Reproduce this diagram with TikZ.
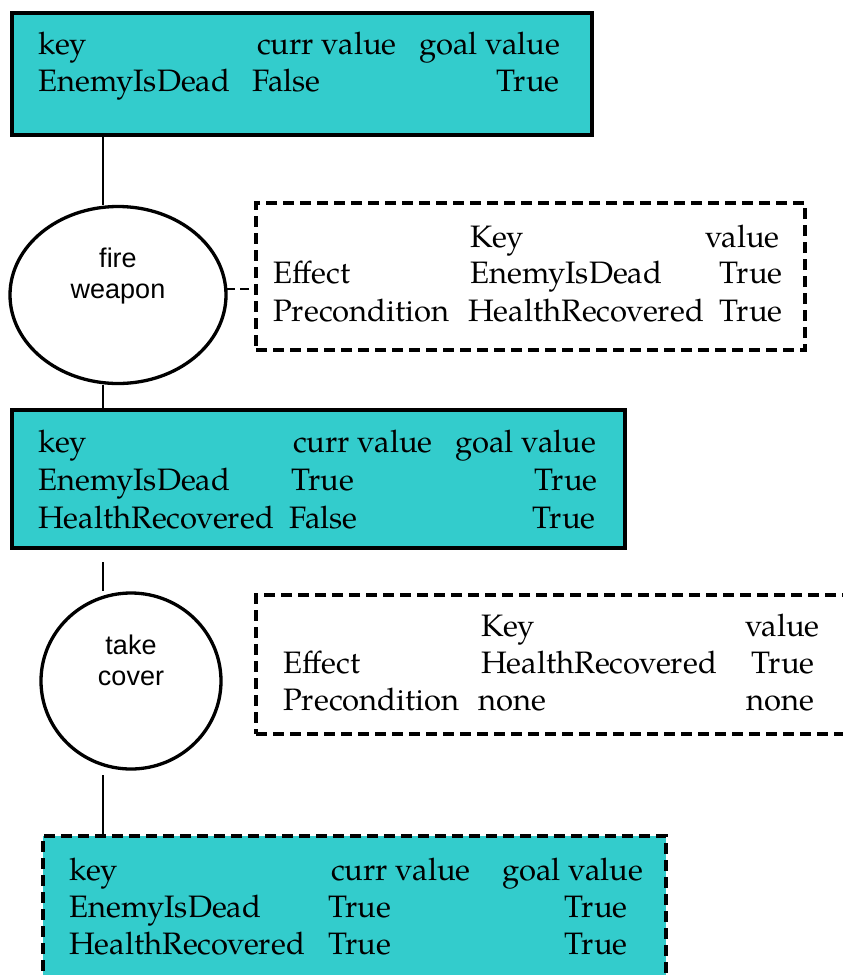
\documentclass[tikz,border=0pt]{standalone}
\usepackage{fontspec}
\setmainfont{TeX Gyre Pagella}
\newfontfamily\arialf{Liberation Sans}
\usetikzlibrary{shapes.geometric}
\definecolor{boxcyan}{RGB}{51,204,204}
\tikzset{
  tx/.style={font=\fontsize{31}{37}\selectfont, inner sep=0pt},
  L/.style={tx, anchor=base west},
  R/.style={tx, anchor=base east},
  statebox/.style={draw, line width=3.8pt, fill=boxcyan, rectangle, inner sep=0pt},
  actbox/.style={draw, line width=3.2pt, dash pattern=on 11pt off 6pt, rectangle, inner sep=0pt},
  action/.style={draw, line width=3.3pt, ellipse, inner sep=0pt},
  acttext/.style={align=center, inner sep=0pt, font=\arialf\fontsize{27}{31}\selectfont},
  link/.style={line width=2pt},
  dlink/.style={line width=2.4pt, dash pattern=on 9pt off 5pt},
}
\begin{document}
\begin{tikzpicture}[x=1pt, y=-1pt]
\useasboundingbox (0,0) rectangle (843,975);

% ---- state box 1
\node[statebox, minimum width=580pt, minimum height=122pt] (b1) at (302,74) {};
\node[L] (b1k)  at (38,54)  {key};
\node[L] (b1c)  at (257,54) {curr value};
\node[L] (b1g)  at (419,54) {goal value};
\node[L] (b1r1) at (38,91)  {EnemyIsDead};
\node[L] (b1r2) at (252,91) {False};
\node[R] (b1r3) at (560,91) {True};

% ---- action 1
\node[action, minimum width=216pt, minimum height=177pt] (e1) at (118,295) {};
\node[acttext] (e1t) at (118,276) {fire\\weapon};
\coordinate (x1) at (103,0);

% ---- action box 1
\node[actbox, minimum width=549pt, minimum height=147pt] (a1) at (530.5,276.5) {};
\node[L] (a1k)  at (470,247) {Key};
\node[R] (a1v)  at (780,247) {value};
\node[L] (a1e)  at (273,283) {Effect};
\node[L] (a1ek) at (470,283) {EnemyIsDead};
\node[R] (a1ev) at (783,283) {True};
\node[L] (a1p)  at (273,321) {Precondition};
\node[L] (a1pk) at (468,321) {HealthRecovered};
\node[R] (a1pv) at (783,321) {True};

% ---- state box 2
\node[statebox, minimum width=613pt, minimum height=138pt] (b2) at (318.5,479) {};
\node[L] (b2k)  at (38,452)  {key};
\node[L] (b2c)  at (293,452) {curr value};
\node[L] (b2g)  at (455,452) {goal value};
\node[L] (b2a1) at (38,490)  {EnemyIsDead};
\node[L] (b2a2) at (291,490) {True};
\node[R] (b2a3) at (598,490) {True};
\node[L] (b2b1) at (38,528)  {HealthRecovered};
\node[L] (b2b2) at (289,528) {False};
\node[R] (b2b3) at (596,528) {True};

% ---- action 2
\node[action, minimum width=180pt, minimum height=176pt] (e2) at (131,681) {};
\node[acttext] (e2t) at (131,660) {take\\cover};

% ---- action box 2 (runs past the right edge)
\node[actbox, minimum width=620pt, minimum height=139pt] (a2) at (566,664.5) {};
\node[L] (a2k)  at (481,636) {Key};
\node[R] (a2v)  at (820,636) {value};
\node[L] (a2e)  at (283,673) {Effect};
\node[L] (a2ek) at (481,673) {HealthRecovered};
\node[R] (a2ev) at (815,673) {True};
\node[L] (a2p)  at (283,710) {Precondition};
\node[L] (a2pk) at (478,710) {none};
\node[R] (a2pv) at (815,710) {none};

% ---- state box 3 (runs past the bottom edge)
\node[statebox, dash pattern=on 11pt off 6pt, line width=3.2pt, minimum width=623pt, minimum height=160pt] (b3) at (354.5,916) {};
\node[L] (b3k)  at (69,880)  {key};
\node[L] (b3c)  at (331,880) {curr value};
\node[L] (b3g)  at (502,880) {goal value};
\node[L] (b3a1) at (69,917)  {EnemyIsDead};
\node[L] (b3a2) at (328,917) {True};
\node[R] (b3a3) at (628,917) {True};
\node[L] (b3b1) at (69,954)  {HealthRecovered};
\node[L] (b3b2) at (328,954) {True};
\node[R] (b3b3) at (628,954) {True};

% ---- connectors
\coordinate (s3) at (103,562);
\coordinate (s4) at (103,775);
\coordinate (d1) at (226,289);
\draw[link] (b1.south -| x1) -- (e1.north -| x1);
\draw[link] (e1.south -| x1) -- (b2.north -| x1);
\draw[link] (s3) -- (e2.north -| x1);
\draw[link] (s4) -- (b3.north -| x1);
\draw[dlink] (d1) -- (a1.west |- d1);
\end{tikzpicture}
\end{document}
